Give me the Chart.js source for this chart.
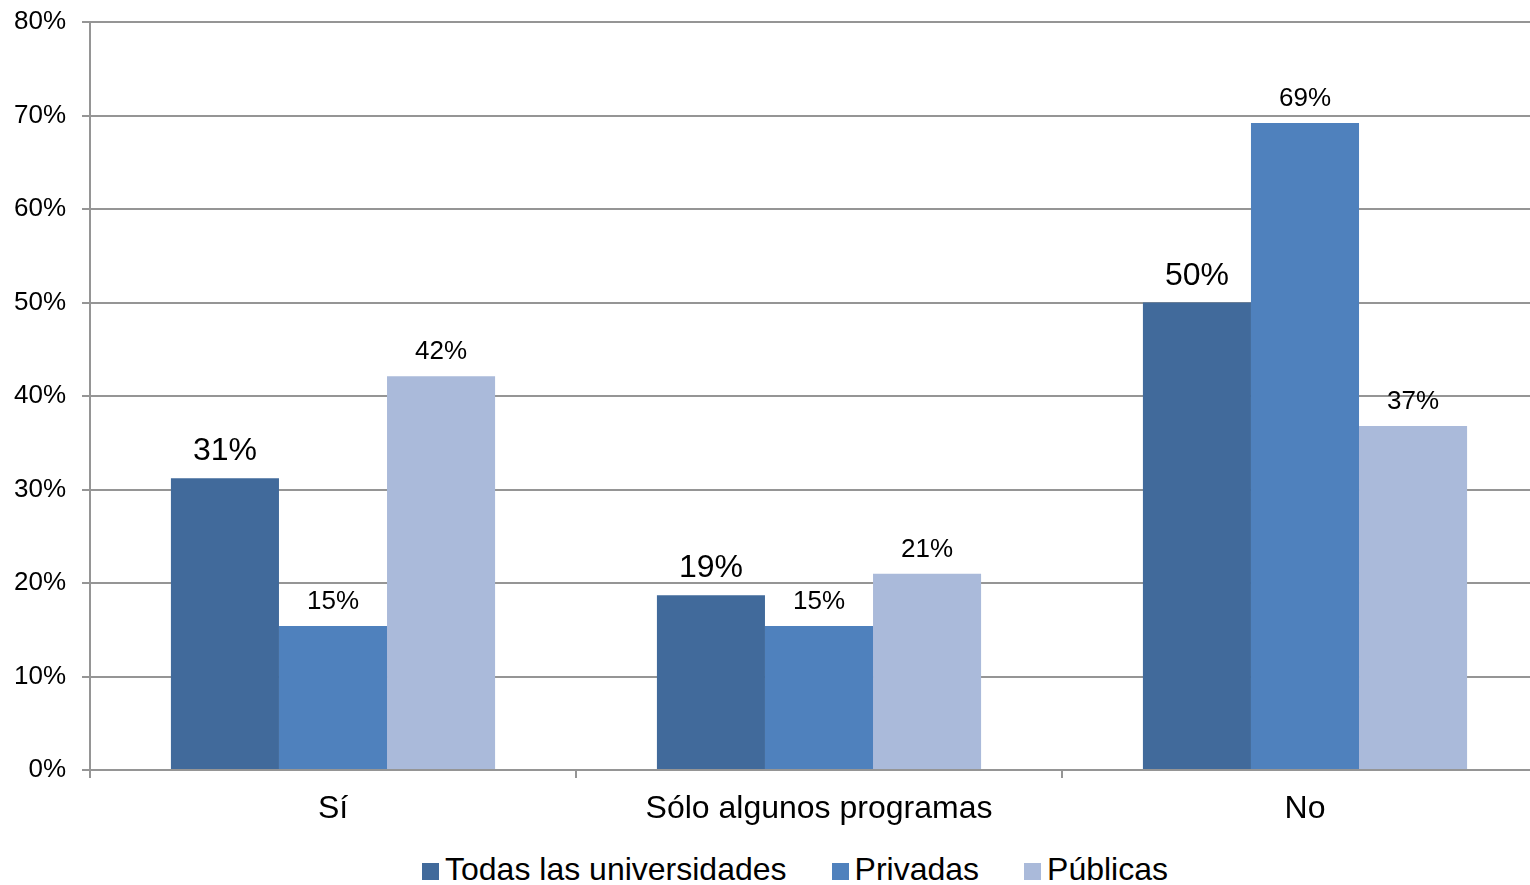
<!DOCTYPE html>
<html>
<head>
<meta charset="utf-8">
<script src="https://cdn.jsdelivr.net/npm/chart.js@4/dist/chart.umd.min.js"></script>
<style>
  html, body { margin: 0; padding: 0; background: #fff; overflow: hidden; }
  #page { width: 1530px; height: 885px; overflow: hidden; }
  #wrap { width: 1549px; height: 845px; }
  #legend { position: relative; width: 1530px; height: 40px; font-family: 'Liberation Sans', Arial, sans-serif; font-size: 32px; line-height: 32px; color: #000; }
  #legend .items { position: absolute; left: 422px; top: 8px; white-space: nowrap; }
  #legend .item { display: inline-block; margin-right: 45px; }
  #legend .box { display: inline-block; width: 17px; height: 17px; margin-right: 6px; vertical-align: 0px; }
</style>
</head>
<body>
<div id="page">
<div id="wrap"><canvas id="chart"></canvas></div>
<div id="legend"><div class="items"></div></div>
</div>
<script>
var categories = ["Sí", "Sólo algunos programas", "No"];
var seriesNames = ["Todas las universidades", "Privadas", "Públicas"];
var todas = [31.2, 18.7, 50];
var privadas = [15.4, 15.4, 69.2];
var publicas = [42.1, 21, 36.8];
var labelsTodas = ["31%", "19%", "50%"];
var labelsPrivadas = ["15%", "15%", "69%"];
var labelsPublicas = ["42%", "21%", "37%"];
var colors = ["#416A9B", "#4F81BD", "#AABADA"];

var gridGray = "#959595";
var font = "'Liberation Sans', Arial, sans-serif";

var valueLabels = {
  id: 'valueLabels',
  afterDatasetsDraw: function (chart) {
    var ctx = chart.ctx;
    var texts = [labelsTodas, labelsPrivadas, labelsPublicas];
    ctx.save();
    ctx.fillStyle = "#000";
    ctx.textAlign = "center";
    ctx.textBaseline = "alphabetic";
    chart.data.datasets.forEach(function (ds, i) {
      var meta = chart.getDatasetMeta(i);
      ctx.font = (i === 0 ? "32px " : "26px ") + font;
      meta.data.forEach(function (bar, j) {
        ctx.fillText(texts[i][j], bar.x, bar.y - (i === 0 ? 18 : 17));
      });
    });
    ctx.restore();
  }
};

var chart = new Chart(document.getElementById("chart"), {
  type: 'bar',
  data: {
    labels: categories,
    datasets: [
      { label: seriesNames[0], data: todas, backgroundColor: colors[0] },
      { label: seriesNames[1], data: privadas, backgroundColor: colors[1] },
      { label: seriesNames[2], data: publicas, backgroundColor: colors[2] }
    ]
  },
  options: {
    responsive: true,
    maintainAspectRatio: false,
    animation: false,
    layout: { padding: { top: 22, right: 1, left: 0, bottom: 0 } },
    datasets: { bar: { barPercentage: 1, categoryPercentage: 0.667 } },
    plugins: {
      legend: { display: false },
      tooltip: { enabled: false }
    },
    scales: {
      x: {
        grid: { offset: true, drawOnChartArea: false, drawTicks: true, tickLength: 8, color: gridGray, lineWidth: 2 },
        border: { color: gridGray, width: 2 },
        ticks: { color: "#000", padding: 12, font: { family: font, size: 32 } },
        afterFit: function (scale) { scale.height = 75; scale.paddingLeft = 0; scale.paddingRight = 0; }
      },
      y: {
        min: 0,
        max: 80,
        ticks: {
          stepSize: 10,
          color: "#000",
          padding: 16,
          font: { family: font, size: 26 },
          callback: function (v) { return v + "%"; }
        },
        grid: { color: gridGray, lineWidth: 2, tickLength: 8 },
        border: { color: gridGray, width: 2 },
        afterFit: function (scale) { scale.width = 90; scale.paddingTop = 0; scale.paddingBottom = 0; }
      }
    }
  },
  plugins: [valueLabels]
});

// legend as html below the canvas
var items = document.querySelector("#legend .items");
seriesNames.forEach(function (name, i) {
  var item = document.createElement("span");
  item.className = "item";
  var box = document.createElement("span");
  box.className = "box";
  box.style.background = colors[i];
  item.appendChild(box);
  item.appendChild(document.createTextNode(name));
  items.appendChild(item);
});
</script>
</body>
</html>
